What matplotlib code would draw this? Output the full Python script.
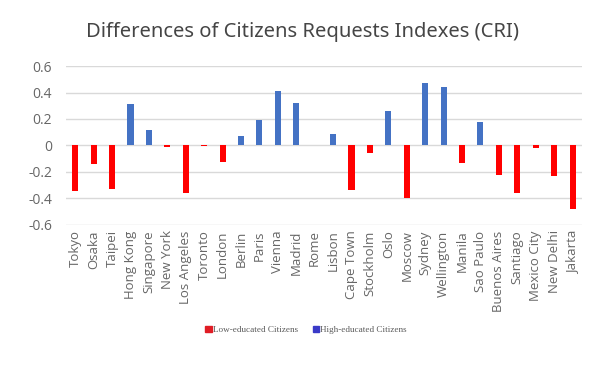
import numpy as np
import matplotlib
matplotlib.use('Agg')
import matplotlib.pyplot as plt
from matplotlib.patches import Patch

cities = ['Tokyo', 'Osaka', 'Taipei', 'Hong Kong', 'Singapore', 'New York',
          'Los Angeles', 'Toronto', 'London', 'Berlin', 'Paris', 'Vienna',
          'Madrid', 'Rome', 'Lisbon', 'Cape Town', 'Stockholm', 'Oslo',
          'Moscow', 'Sydney', 'Wellington', 'Manila', 'Sao Paulo',
          'Buenos Aires', 'Santiago', 'Mexico City', 'New Delhi', 'Jakarta']

# differences where low-educated citizens dominate (negative)
low_edu = [-0.345, -0.14, -0.325, 0, 0, -0.015,
           -0.36, -0.006, -0.125, 0, 0, 0,
           0, 0, 0, -0.34, -0.058, 0,
           -0.40, 0, 0, -0.135, 0,
           -0.226, -0.36, -0.022, -0.232, -0.483]

# differences where high-educated citizens dominate (positive)
high_edu = [0, 0, 0, 0.31, 0.12, 0,
            0, 0, 0, 0.068, 0.19, 0.415,
            0.318, 0, 0.083, 0, 0, 0.257,
            0, 0.47, 0.44, 0, 0.18,
            0, 0, 0, 0, 0]

yticks = [-0.6, -0.4, -0.2, 0, 0.2, 0.4, 0.6]

fig = plt.figure(figsize=(6.06, 3.73), dpi=100)
ax = fig.add_axes([0.109, 0.397, 0.851, 0.426])

x = np.arange(len(cities))
ax.bar(x, low_edu, width=0.33, color='#ff0000', zorder=3)
ax.bar(x, high_edu, width=0.33, color='#4472c4', zorder=3)

ax.set_xlim(-0.5, len(cities) - 0.5)
ax.set_ylim(-0.6, 0.6)
ax.set_yticks(yticks)
ax.set_yticklabels(['-0.6', '-0.4', '-0.2', '0', '0.2', '0.4', '0.6'])
ax.set_xticks(x)
ax.set_xticklabels(cities, rotation=90, ha='center', va='top')
ax.grid(axis='y', color='#d9d9d9', linewidth=1, zorder=0)
for s in ax.spines.values():
    s.set_visible(False)
ax.tick_params(axis='both', length=0, colors='#666666')
ax.tick_params(axis='y', labelsize=10, pad=10)
ax.tick_params(axis='x', labelsize=9.5, pad=4)
for lbl in ax.get_xticklabels() + ax.get_yticklabels():
    lbl.set_family('Open Sans')

fig.text(0.5, 0.915, 'Differences of Citizens Requests Indexes (CRI)',
         ha='center', va='center', fontsize=14.5, color='#454545',
         family='Noto Sans')

handles = [Patch(color='#e01c24', label='Low-educated Citizens'),
           Patch(color='#3a3ac8', label='High-educated Citizens')]
fig.legend(handles=handles, loc='center', bbox_to_anchor=(0.505, 0.115),
           ncol=2, frameon=False, handlelength=0.7, handleheight=0.7,
           handletextpad=0.1, columnspacing=1.6,
           prop={'family': 'Liberation Serif', 'size': 6.6}, labelcolor='#595959')

fig.savefig('out.png', dpi=100)
